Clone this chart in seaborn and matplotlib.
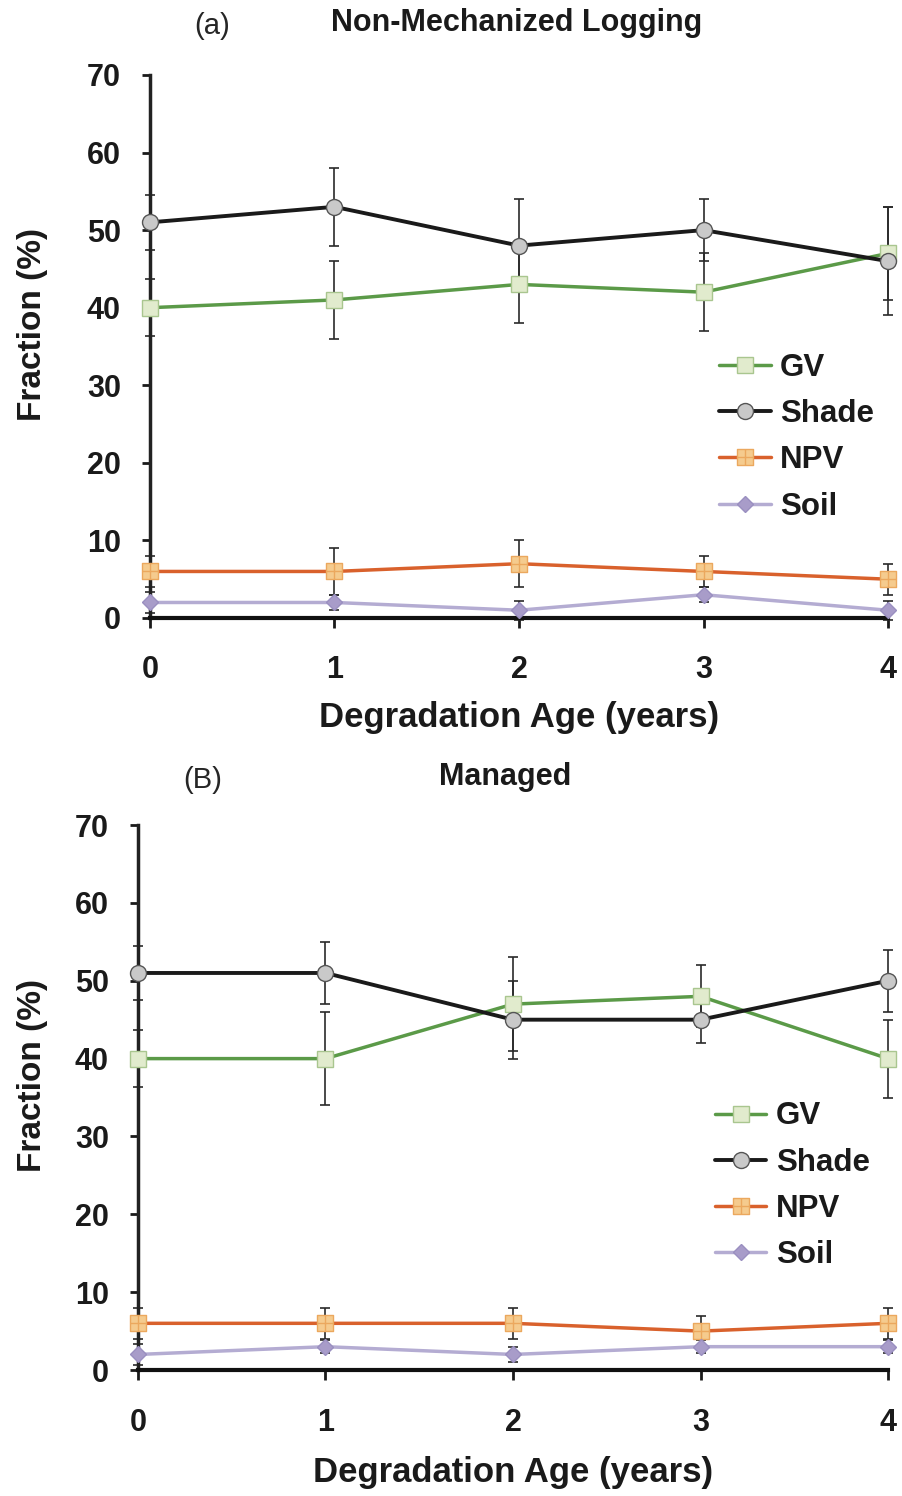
import numpy as np
import pandas as pd
import seaborn as sns
import matplotlib
matplotlib.use("Agg")
import matplotlib.pyplot as plt
from matplotlib.path import Path

sns.set_style("white")
plt.rcParams['font.family'] = ['Liberation Sans', 'DejaVu Sans']

ages = [0, 1, 2, 3, 4]
series_names = ["GV", "Shade", "NPV", "Soil"]

# Panel (a) Non-Mechanized Logging
a_gv = [40, 41, 43, 42, 47]
a_gv_err = [3.7, 5, 5, 5, 6]
a_shade = [51, 53, 48, 50, 46]
a_shade_err = [3.5, 5, 6, 4, 7]
a_npv = [6, 6, 7, 6, 5]
a_npv_err = [2, 3, 3, 2, 2]
a_soil = [2, 2, 1, 3, 1]
a_soil_err = [1.3, 1, 1.2, 1, 1.2]

# Panel (B) Managed
b_gv = [40, 40, 47, 48, 40]
b_gv_err = [3.7, 6, 6, 4, 5]
b_shade = [51, 51, 45, 45, 50]
b_shade_err = [3.5, 4, 5, 3, 4]
b_npv = [6, 6, 6, 5, 6]
b_npv_err = [2, 2, 2, 2, 2]
b_soil = [2, 3, 2, 3, 3]
b_soil_err = [1.4, 0.8, 1, 0.8, 0.8]

yticks = [0, 10, 20, 30, 40, 50, 60, 70]

# square-with-plus marker (closed square plus a cross)
_verts = [(-1, -1), (1, -1), (1, 1), (-1, 1), (-1, -1),
          (0, -1), (0, 1), (-1, 0), (1, 0)]
_codes = [Path.MOVETO, Path.LINETO, Path.LINETO, Path.LINETO, Path.CLOSEPOLY,
          Path.MOVETO, Path.LINETO, Path.MOVETO, Path.LINETO]
sq_plus = Path(_verts, _codes)

styles = {
    "GV": dict(color="#5b9a48", marker="s", mfc="#e1ebcd", mec="#a9c68f", ms=11, lw=2.5),
    "Shade": dict(color="#1a1a1a", marker="o", mfc="#c9c9c9", mec="#555555", ms=11.5, lw=2.8),
    "NPV": dict(color="#d9612c", marker=sq_plus, mfc="#f5cb8e", mec="#eba85e", ms=11, lw=2.5),
    "Soil": dict(color="#b4acd2", marker="D", mfc="#a89cc9", mec="#9a8fc0", ms=8.5, lw=2.5),
}

fig = plt.figure(figsize=(9.03, 14.96), dpi=100)
ax_a = fig.add_axes([0.1661, 0.5869, 0.8173, 0.3630])
ax_b = fig.add_axes([0.1528, 0.0842, 0.8306, 0.3643])

panels = [
    (ax_a, [a_gv, a_shade, a_npv, a_soil], [a_gv_err, a_shade_err, a_npv_err, a_soil_err],
     -0.138, -0.152, 0.333, 0.771),
    (ax_b, [b_gv, b_shade, b_npv, b_soil], [b_gv_err, b_shade_err, b_npv_err, b_soil_err],
     -0.120, -0.158, 0.338, 0.769),
]

for ax, vals, errs, ylab_x, xlab_y, leg_y, leg_x in panels:
    for name, v, e in zip(series_names, vals, errs):
        ax.errorbar(ages, v, yerr=e, fmt="none", ecolor="#2a2a2a", elinewidth=1.2,
                    capsize=3.5, capthick=1.2, zorder=2, clip_on=False)
    for name, v in zip(series_names, vals):
        st = styles[name]
        df = pd.DataFrame({"age": ages, "val": v})
        sns.lineplot(data=df, x="age", y="val", ax=ax, color=st["color"], linewidth=st["lw"],
                     marker=st["marker"], markerfacecolor=st["mfc"], markeredgecolor=st["mec"],
                     markeredgewidth=1.0, markersize=st["ms"], label=name, zorder=3,
                     clip_on=False)
    ax.set_xlim(0, 4)
    ax.set_ylim(0, 70)
    ax.set_xticks(ages)
    ax.set_yticks(yticks)
    ax.tick_params(axis="both", labelsize=22, width=2, direction="out",
                   bottom=True, left=True, colors="#1a1a1a")
    ax.tick_params(axis="x", length=7, pad=20)
    ax.tick_params(axis="y", length=6, pad=15)
    for lab in ax.get_xticklabels() + ax.get_yticklabels():
        lab.set_fontweight("bold")
    sns.despine(ax=ax)
    ax.spines["left"].set_linewidth(2.5)
    ax.spines["bottom"].set_linewidth(3)
    ax.spines["left"].set_color("#222222")
    ax.spines["bottom"].set_color("#111111")
    ax.set_xlabel("Degradation Age (years)", fontsize=25, fontweight="bold", color="#1a1a1a")
    ax.xaxis.set_label_coords(0.5, xlab_y)
    ax.set_ylabel("Fraction (%)", fontsize=24, fontweight="bold", color="#1a1a1a")
    ax.yaxis.set_label_coords(ylab_x, 0.54)
    leg = ax.legend(loc="center left", bbox_to_anchor=(leg_x, leg_y), frameon=False,
                    prop={"size": 22.5, "weight": "bold"}, handlelength=1.65,
                    labelspacing=0.52, handletextpad=0.3, borderpad=0, borderaxespad=0)
    for t in leg.get_texts():
        t.set_color("#1a1a1a")

fig.text(212 / 903, 1 - 34 / 1496, "(a)", fontsize=21, ha="center", va="baseline")
fig.text(517 / 903, 1 - 31 / 1496, "Non-Mechanized Logging", fontsize=22, fontweight="bold",
         ha="center", va="baseline", color="#1a1a1a")
fig.text(203 / 903, 1 - 788 / 1496, "(B)", fontsize=21, ha="center", va="baseline")
fig.text(505 / 903, 1 - 785 / 1496, "Managed", fontsize=22, fontweight="bold",
         ha="center", va="baseline", color="#1a1a1a")

fig.savefig("out.png", dpi=100, facecolor="white")
